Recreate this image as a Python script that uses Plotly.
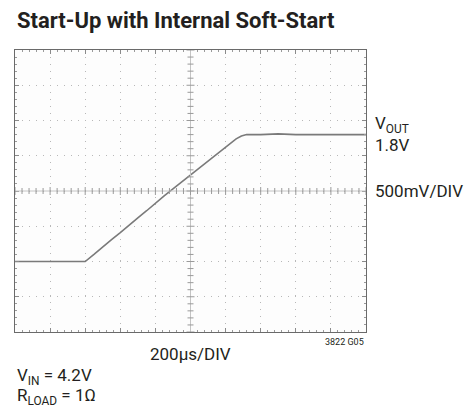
import plotly.graph_objects as go

# scope capture: time (us) from left edge, output voltage (V)
t_us = [0, 100, 200, 300, 400, 450, 500, 550, 600, 650, 700, 750, 800, 850, 900, 950,
        1000, 1050, 1100, 1150, 1200, 1230, 1260, 1290, 1320, 1400, 1500, 1600, 1700,
        1800, 1900, 2000]
v_out = [0.0, 0.0, 0.01, 0.0, 0.0, 0.10, 0.21, 0.31, 0.41, 0.52, 0.62, 0.72, 0.83, 0.93,
         1.03, 1.13, 1.23, 1.33, 1.43, 1.53, 1.62, 1.68, 1.74, 1.78, 1.80, 1.80, 1.81,
         1.80, 1.80, 1.81, 1.80, 1.80]

x_range = [0, 2000]
y_range = [-1.0, 3.0]
x_div, y_div = 200, 0.5

FONT = "Roboto, Liberation Sans, Arial, sans-serif"
INK = "#231f20"
GRID = "#b8b8b8"

fig = go.Figure()
fig.add_trace(go.Scatter(x=t_us, y=v_out, mode="lines",
                         line=dict(color="#7a7a7a", width=1.6), hoverinfo="skip"))

axis_common = dict(
    showticklabels=False, showline=True, linecolor="#6a6a6a", linewidth=1,
    mirror="ticks", ticks="inside", ticklen=4, tickcolor="#8a8a8a",
    showgrid=True, gridcolor=GRID, gridwidth=1, griddash="1px,6px",
    zeroline=False, fixedrange=True,
)
fig.update_xaxes(range=x_range, dtick=x_div, tick0=0,
                 minor=dict(dtick=x_div / 5, ticks="inside", ticklen=2, tickcolor="#9a9a9a", showgrid=False),
                 **axis_common)
fig.update_yaxes(range=y_range, dtick=y_div, tick0=-1.0,
                 minor=dict(dtick=y_div / 5, ticks="inside", ticklen=2, tickcolor="#9a9a9a", showgrid=False),
                 **axis_common)

# centre cross-hair with small ticks
xc = (x_range[0] + x_range[1]) / 2
yc = (y_range[0] + y_range[1]) / 2
shapes = [
    dict(type="line", xref="x", yref="y", x0=xc, x1=xc, y0=y_range[0], y1=y_range[1],
         line=dict(color="#c4c4c4", width=1)),
    dict(type="line", xref="x", yref="y", x0=x_range[0], x1=x_range[1], y0=yc, y1=yc,
         line=dict(color="#c4c4c4", width=1)),
]
n = 0
while n <= 50:
    xt = x_range[0] + n * x_div / 5
    h = 3 if n % 5 else 4
    shapes.append(dict(type="line", xref="x", yref="y", ysizemode="pixel", yanchor=yc,
                       x0=xt, x1=xt, y0=-h, y1=h, line=dict(color="#9a9a9a", width=1)))
    n += 1
n = 0
while n <= 40:
    yt = y_range[0] + n * y_div / 5
    h = 3 if n % 5 else 4
    shapes.append(dict(type="line", xref="x", yref="y", xsizemode="pixel", xanchor=xc,
                       y0=yt, y1=yt, x0=-h, x1=h, line=dict(color="#9a9a9a", width=1)))
    n += 1

annotations = [
    dict(text="<b>Start-Up with Internal Soft-Start</b>", xref="paper", yref="paper",
         x=0, y=1.0, yshift=30, xanchor="left", yanchor="middle", showarrow=False,
         font=dict(size=22, color=INK, family=FONT)),
    dict(text="V<sub>OUT</sub><br>1.8V", xref="paper", yref="y", x=1.0, xshift=7,
         y=1.8, yshift=1, yanchor="middle", xanchor="left", showarrow=False, align="left",
         font=dict(size=17, color=INK, family=FONT)),
    dict(text="500mV/DIV", xref="paper", yref="y", x=1.0, xshift=7, y=yc,
         xanchor="left", yanchor="middle", showarrow=False,
         font=dict(size=17, color=INK, family=FONT)),
    dict(text="200µs/DIV", xref="x", yref="paper", x=xc, y=0, yshift=-22,
         xanchor="center", yanchor="middle", showarrow=False,
         font=dict(size=17, color=INK, family=FONT)),
    dict(text="3822 G05", xref="paper", yref="paper", x=1.0, y=0, yshift=-10,
         xanchor="right", yanchor="middle", showarrow=False,
         font=dict(size=9, color=INK, family=FONT)),
    dict(text="V<sub>IN</sub> = 4.2V", xref="paper", yref="paper",
         x=0, y=0, yshift=-44, xanchor="left", yanchor="middle", showarrow=False,
         font=dict(size=17, color=INK, family=FONT)),
    dict(text="R<sub>LOAD</sub> = 1Ω", xref="paper", yref="paper",
         x=0, y=0, yshift=-64, xanchor="left", yanchor="middle", showarrow=False,
         font=dict(size=17, color=INK, family=FONT)),
]

fig.update_layout(
    width=466, height=408,
    margin=dict(l=15, r=100, t=50, b=76),
    paper_bgcolor="white", plot_bgcolor="#fdfdfd",
    showlegend=False, shapes=shapes, annotations=annotations,
)

# drop the default 8px page margin so the figure fills the window
fig.write_html("out.html", config=dict(displayModeBar=False),
               post_script="document.body.style.margin='0';document.body.style.overflow='hidden';")
